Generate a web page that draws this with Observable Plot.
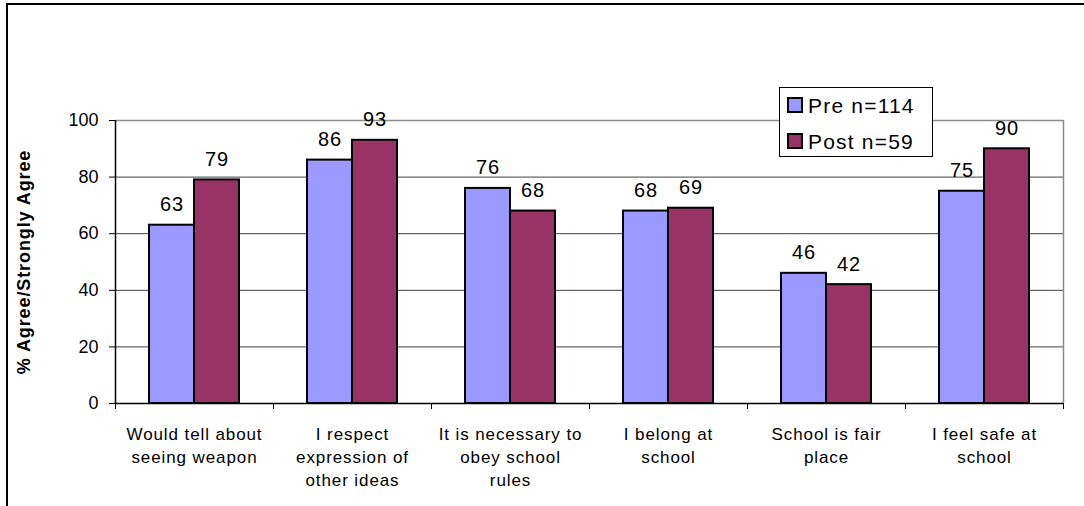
<!DOCTYPE html>
<html>
<head>
<meta charset="utf-8">
<script src="https://cdn.jsdelivr.net/npm/d3@7"></script>
<script src="https://cdn.jsdelivr.net/npm/@observablehq/plot@0.6"></script>
<style>
  html, body { margin: 0; padding: 0; background: #fff; }
  #wrap { position: relative; width: 1084px; height: 506px; overflow: hidden; font-family: "Liberation Sans", Arial, sans-serif; }
  #border { position: absolute; left: 6px; top: 3px; width: 1100px; height: 600px; border-top: 2px solid #000; border-left: 2px solid #000; }
  #legend { position: absolute; left: 779px; top: 87px; width: 152px; height: 68px; border: 1px solid #000; background: #fff; }
  .item { position: absolute; left: 7px; height: 24px; font-size: 21px; letter-spacing: 1.2px; color: #000; line-height: 24px; white-space: nowrap; }
  .sw { display: inline-block; width: 12px; height: 12px; border: 2px solid #000; vertical-align: middle; margin-right: 5px; position: relative; top: -2px; }
  #chart svg g[aria-label="text"] text { letter-spacing: 0.9px; }
</style>
</head>
<body>
<div id="wrap">
  <div id="chart"></div>
  <div id="border"></div>
  <div id="legend"></div>
</div>
<script>
const categories = [
  "Would tell about\nseeing weapon",
  "I respect\nexpression of\nother ideas",
  "It is necessary to\nobey school\nrules",
  "I belong at\nschool",
  "School is fair\nplace",
  "I feel safe at\nschool"
];
const preValues = [63, 86, 76, 68, 46, 75];
const postValues = [79, 93, 68, 69, 42, 90];
const seriesNames = ["Pre n=114", "Post n=59"];
const seriesColors = ["#9999FF", "#993366"];
const yTicks = [0, 20, 40, 60, 80, 100];
const yTitle = "% Agree/Strongly Agree";

const preData = categories.map((c, i) => ({cat: c, v: preValues[i]}));
const postData = categories.map((c, i) => ({cat: c, v: postValues[i]}));

const W = 1084, H = 506;
const mL = 115, mR = 21, mT = 120, mB = 103;
const bw = (W - mL - mR) / categories.length;
const outer = 34;
const half = bw / 2;
const barW = half - outer;

const chart = Plot.plot({
  width: W,
  height: H,
  marginLeft: mL,
  marginRight: mR,
  marginTop: mT,
  marginBottom: mB,
  style: {fontFamily: "'Liberation Sans', Arial, sans-serif", background: "transparent", overflow: "visible"},
  x: {type: "band", domain: categories, padding: 0, axis: null},
  y: {domain: [0, 100], axis: null},
  marks: [
    Plot.ruleY(yTicks.filter(t => t > 0 && t < 100), {stroke: "#404040", strokeWidth: 1}),
    Plot.ruleY([100], {stroke: "#8c8c8c", strokeWidth: 1.5}),
    Plot.ruleX([categories[categories.length - 1]], {dx: half, stroke: "#8c8c8c", strokeWidth: 1.5}),
    Plot.barY(preData, {x: "cat", y: "v", fill: seriesColors[0], stroke: "#000", strokeWidth: 2, insetLeft: outer, insetRight: half}),
    Plot.barY(postData, {x: "cat", y: "v", fill: seriesColors[1], stroke: "#000", strokeWidth: 2, insetLeft: half, insetRight: outer}),
    Plot.ruleY([0], {stroke: "#000", strokeWidth: 1.5}),
    Plot.ruleX([categories[0]], {dx: -half, stroke: "#000", strokeWidth: 1.5}),
    Plot.axisY({ticks: yTicks, label: null, tickSize: 6, tickPadding: 11, fontSize: 18, stroke: "#000", fill: "#000", tickFormat: d => String(d)}),
    Plot.axisX({ticks: categories, label: null, tickSize: 6, tickFormat: () => "", dx: -half, stroke: "#000"}),
    Plot.axisX({ticks: [categories[categories.length - 1]], label: null, tickSize: 6, tickFormat: () => "", dx: half, stroke: "#000"}),
    Plot.text(categories, {x: d => d, frameAnchor: "bottom", dy: 20, lineAnchor: "top", lineHeight: 1.35, fontSize: 17, fill: "#000", text: d => d}),
    Plot.text(preData, {x: "cat", y: "v", text: d => String(d.v), dx: -barW / 2, dy: -14, lineAnchor: "bottom", fontSize: 20, fill: "#000"}),
    Plot.text(postData, {x: "cat", y: "v", text: d => String(d.v), dx: barW / 2, dy: -14, lineAnchor: "bottom", fontSize: 20, fill: "#000"}),
    Plot.text([yTitle], {frameAnchor: "left", textAnchor: "middle", dx: -91, rotate: -90, fontSize: 18, fontWeight: "bold", fill: "#000", text: d => d})
  ]
});
document.getElementById("chart").appendChild(chart);

const legend = document.getElementById("legend");
seriesNames.forEach((name, i) => {
  const it = document.createElement("div");
  it.className = "item";
  it.style.top = (6 + i * 36) + "px";
  it.innerHTML = `<span class="sw" style="background:${seriesColors[i]}"></span>${name}`;
  legend.appendChild(it);
});
</script>
</body>
</html>
